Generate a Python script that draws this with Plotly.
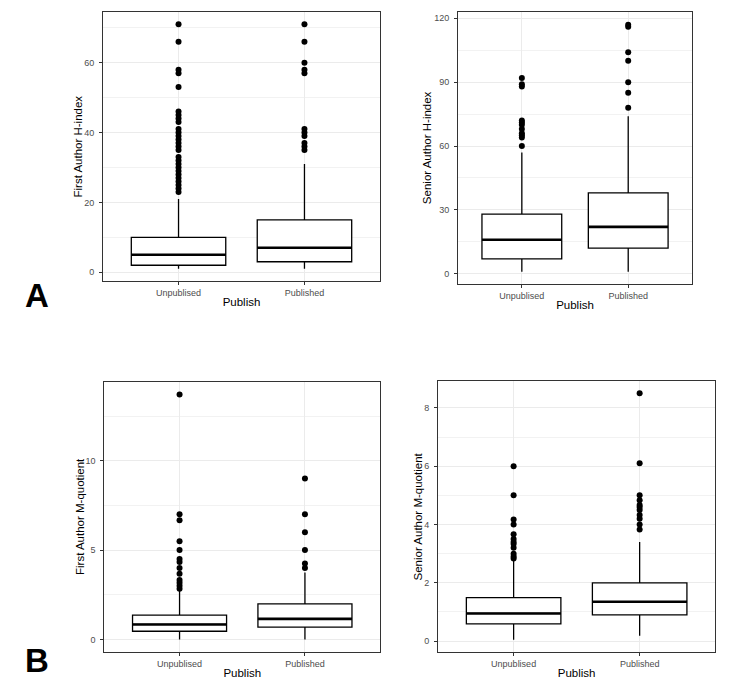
import plotly.graph_objects as go

categories = ["Unpublised", "Published"]

# Panel A-left: First Author H-index
fa_h_q1 = [2, 3]
fa_h_med = [5, 7]
fa_h_q3 = [10, 15]
fa_h_lo = [1, 1]
fa_h_hi = [21, 31]
fa_h_out_unpub = [71, 66, 58, 57, 53, 46, 45, 44, 43, 41, 40, 39, 38, 37, 36, 35, 33, 32, 31,
                  30, 29, 28, 27, 26, 25, 24, 23]
fa_h_out_pub = [71, 66, 60, 58, 57, 41, 40, 39, 37, 36, 35]

# Panel A-right: Senior Author H-index
sa_h_q1 = [7, 12]
sa_h_med = [16, 22]
sa_h_q3 = [28, 38]
sa_h_lo = [1, 1]
sa_h_hi = [57, 74]
sa_h_out_unpub = [92, 89, 88, 72, 71, 70, 68, 66, 65, 64, 60]
sa_h_out_pub = [117, 116, 104, 100, 90, 85, 78]

# Panel B-left: First Author M-quotient
fa_m_q1 = [0.46, 0.69]
fa_m_med = [0.84, 1.15]
fa_m_q3 = [1.36, 1.99]
fa_m_lo = [0, 0]
fa_m_hi = [2.75, 3.74]
fa_m_out_unpub = [13.7, 7.0, 6.67, 5.5, 5.0, 4.5, 4.33, 4.0, 3.67, 3.33, 3.17, 3.0, 2.83]
fa_m_out_pub = [9.0, 7.0, 6.0, 5.0, 4.25, 4.0]

# Panel B-right: Senior Author M-quotient
sa_m_q1 = [0.59, 0.9]
sa_m_med = [0.95, 1.35]
sa_m_q3 = [1.49, 2.0]
sa_m_lo = [0.05, 0.18]
sa_m_hi = [2.78, 3.4]
sa_m_out_unpub = [6.0, 5.0, 4.17, 4.0, 3.67, 3.5, 3.4, 3.33, 3.2, 3.0, 2.9, 2.83]
sa_m_out_pub = [8.5, 6.1, 5.0, 4.83, 4.67, 4.6, 4.5, 4.33, 4.2, 4.0, 3.83]

y_titles = ["First Author H-index", "Senior Author H-index",
            "First Author M-quotient", "Senior Author M-quotient"]
x_title = "Publish"
panel_labels = ["A", "B"]

panels = [
    dict(q1=fa_h_q1, med=fa_h_med, q3=fa_h_q3, lo=fa_h_lo, hi=fa_h_hi,
         outs=[fa_h_out_unpub, fa_h_out_pub], dtick=20,
         xdom=[0.1373, 0.5067], ydom=[0.5957, 0.9827], ytx=78),
    dict(q1=sa_h_q1, med=sa_h_med, q3=sa_h_q3, lo=sa_h_lo, hi=sa_h_hi,
         outs=[sa_h_out_unpub, sa_h_out_pub], dtick=30,
         xdom=[0.6107, 0.9227], ydom=[0.5914, 0.9823], ytx=427),
    dict(q1=fa_m_q1, med=fa_m_med, q3=fa_m_q3, lo=fa_m_lo, hi=fa_m_hi,
         outs=[fa_m_out_unpub, fa_m_out_pub], dtick=5,
         xdom=[0.1391, 0.5069], ydom=[0.0623, 0.4499], ytx=80),
    dict(q1=sa_m_q1, med=sa_m_med, q3=sa_m_q3, lo=sa_m_lo, hi=sa_m_hi,
         outs=[sa_m_out_unpub, sa_m_out_pub], dtick=2,
         xdom=[0.584, 0.9537], ydom=[0.0619, 0.4518], ytx=418),
]

FONT = "Liberation Sans, Arial, sans-serif"
BOXW = 0.75
W, H = 750, 695

fig = go.Figure()
layout = dict(width=W, height=H, margin=dict(l=0, r=0, t=0, b=0),
              paper_bgcolor="white", plot_bgcolor="white", showlegend=False,
              font=dict(family=FONT, color="black"))
shapes = []
annotations = []

for k, p in enumerate(panels):
    n = k + 1
    xa = "x" if n == 1 else f"x{n}"
    ya = "y" if n == 1 else f"y{n}"
    xpos = [i + 1 for i in range(len(categories))]
    for i in range(len(categories)):
        fig.add_trace(go.Box(
            x=[xpos[i]], q1=[p["q1"][i]], median=[p["med"][i]], q3=[p["q3"][i]],
            lowerfence=[p["lo"][i]], upperfence=[p["hi"][i]],
            width=BOXW, whiskerwidth=0, boxpoints=False,
            fillcolor="white", line=dict(color="black", width=1.3),
            xaxis=xa, yaxis=ya, hoverinfo="skip"))
        fig.add_trace(go.Scatter(
            x=[xpos[i]] * len(p["outs"][i]), y=p["outs"][i], mode="markers",
            marker=dict(color="black", size=6), xaxis=xa, yaxis=ya, hoverinfo="skip"))
        shapes.append(dict(type="line", xref=xa, yref=ya,
                           x0=xpos[i] - BOXW / 2, x1=xpos[i] + BOXW / 2,
                           y0=p["med"][i], y1=p["med"][i],
                           line=dict(color="black", width=2.6), layer="above"))
    allvals = p["lo"] + p["hi"] + p["outs"][0] + p["outs"][1]
    vmin, vmax = min(allvals), max(allvals)
    pad = (vmax - vmin) * 0.05
    axkey_x = "xaxis" if n == 1 else f"xaxis{n}"
    axkey_y = "yaxis" if n == 1 else f"yaxis{n}"
    layout[axkey_x] = dict(
        domain=p["xdom"], anchor=ya, range=[0.4, len(categories) + 0.6],
        tickmode="array", tickvals=xpos, ticktext=categories,
        showgrid=True, gridcolor="#ebebeb", gridwidth=1, zeroline=False,
        showline=True, mirror=True, linecolor="#333333", linewidth=1,
        ticks="outside", ticklen=3, tickcolor="#333333",
        tickfont=dict(size=9, color="#4d4d4d", family=FONT),
        title=dict(text=x_title, font=dict(size=11.5, color="black", family=FONT), standoff=1))
    layout[axkey_y] = dict(
        domain=p["ydom"], anchor=xa, range=[vmin - pad, vmax + pad],
        tick0=0, dtick=p["dtick"], ticklabelstandoff=3,
        showgrid=True, gridcolor="#ebebeb", gridwidth=1, zeroline=False,
        minor=dict(dtick=p["dtick"] / 2, showgrid=True, gridcolor="#f2f2f2", gridwidth=0.6),
        showline=True, mirror=True, linecolor="#333333", linewidth=1,
        ticks="outside", ticklen=3, tickcolor="#333333",
        tickfont=dict(size=9, color="#4d4d4d", family=FONT))
    annotations.append(dict(
        text=y_titles[k], x=p["ytx"] / W, y=(p["ydom"][0] + p["ydom"][1]) / 2,
        xref="paper", yref="paper", xanchor="center", yanchor="middle",
        textangle=-90, showarrow=False,
        font=dict(size=11.5, color="black", family=FONT)))

annotations.append(dict(text="<b>" + panel_labels[0] + "</b>", x=37 / W, y=1 - 295 / H,
                        xref="paper", yref="paper", xanchor="center", yanchor="middle",
                        showarrow=False,
                        font=dict(size=33, family="Liberation Sans Narrow, Liberation Sans, Arial", color="black")))
annotations.append(dict(text="<b>" + panel_labels[1] + "</b>", x=37 / W, y=1 - 660 / H,
                        xref="paper", yref="paper", xanchor="center", yanchor="middle",
                        showarrow=False,
                        font=dict(size=33, family="Liberation Sans Narrow, Liberation Sans, Arial", color="black")))

layout["shapes"] = shapes
layout["annotations"] = annotations
fig.update_layout(**layout)
fig.write_html("out.html")
